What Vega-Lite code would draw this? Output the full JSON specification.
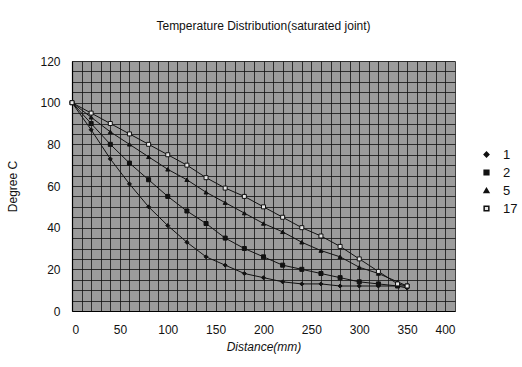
{
  "$schema": "https://vega.github.io/schema/vega-lite/v6.json",
  "width": 383,
  "height": 250,
  "autosize": {"type": "none"},
  "padding": {"left": 72, "top": 61, "right": 67, "bottom": 56},
  "background": "white",
  "title": {"text": "Temperature Distribution(saturated joint)", "font": "Liberation Sans", "fontSize": 12, "fontWeight": "normal", "color": "#111", "offset": 22, "anchor": "middle"},
  "config": {
    "view": {"fill": "#9c9c9c", "stroke": null},
    "axis": {"labelFont": "Liberation Sans", "labelFontSize": 12, "labelColor": "#111", "titleFont": "Liberation Sans", "titleFontSize": 12, "titleFontWeight": "normal", "titleColor": "#111", "gridColor": "#111", "gridOpacity": 0.8, "gridWidth": 1, "tickSize": 0, "domainColor": "#000", "domainWidth": 1.2}
  },
  "data": {"values": [
    {"series": "1", "x": 0, "y": 100}, {"series": "1", "x": 20, "y": 87}, {"series": "1", "x": 40, "y": 73}, {"series": "1", "x": 60, "y": 61}, {"series": "1", "x": 80, "y": 50}, {"series": "1", "x": 100, "y": 41}, {"series": "1", "x": 120, "y": 33}, {"series": "1", "x": 140, "y": 26}, {"series": "1", "x": 160, "y": 22}, {"series": "1", "x": 180, "y": 18}, {"series": "1", "x": 200, "y": 16}, {"series": "1", "x": 220, "y": 14}, {"series": "1", "x": 240, "y": 13}, {"series": "1", "x": 260, "y": 13}, {"series": "1", "x": 280, "y": 12}, {"series": "1", "x": 300, "y": 12}, {"series": "1", "x": 320, "y": 12}, {"series": "1", "x": 340, "y": 12}, {"series": "1", "x": 350, "y": 11},
    {"series": "2", "x": 0, "y": 100}, {"series": "2", "x": 20, "y": 90}, {"series": "2", "x": 40, "y": 80}, {"series": "2", "x": 60, "y": 71}, {"series": "2", "x": 80, "y": 63}, {"series": "2", "x": 100, "y": 55}, {"series": "2", "x": 120, "y": 48}, {"series": "2", "x": 140, "y": 42}, {"series": "2", "x": 160, "y": 35}, {"series": "2", "x": 180, "y": 30}, {"series": "2", "x": 200, "y": 26}, {"series": "2", "x": 220, "y": 22}, {"series": "2", "x": 240, "y": 20}, {"series": "2", "x": 260, "y": 18}, {"series": "2", "x": 280, "y": 16}, {"series": "2", "x": 300, "y": 14}, {"series": "2", "x": 320, "y": 13}, {"series": "2", "x": 340, "y": 12}, {"series": "2", "x": 350, "y": 12},
    {"series": "5", "x": 0, "y": 100}, {"series": "5", "x": 20, "y": 93}, {"series": "5", "x": 40, "y": 86}, {"series": "5", "x": 60, "y": 80}, {"series": "5", "x": 80, "y": 74}, {"series": "5", "x": 100, "y": 68}, {"series": "5", "x": 120, "y": 63}, {"series": "5", "x": 140, "y": 57}, {"series": "5", "x": 160, "y": 52}, {"series": "5", "x": 180, "y": 47}, {"series": "5", "x": 200, "y": 42}, {"series": "5", "x": 220, "y": 38}, {"series": "5", "x": 240, "y": 33}, {"series": "5", "x": 260, "y": 29}, {"series": "5", "x": 280, "y": 26}, {"series": "5", "x": 300, "y": 21}, {"series": "5", "x": 320, "y": 18}, {"series": "5", "x": 340, "y": 14}, {"series": "5", "x": 350, "y": 12},
    {"series": "17", "x": 0, "y": 100}, {"series": "17", "x": 20, "y": 95}, {"series": "17", "x": 40, "y": 90}, {"series": "17", "x": 60, "y": 85}, {"series": "17", "x": 80, "y": 80}, {"series": "17", "x": 100, "y": 75}, {"series": "17", "x": 120, "y": 70}, {"series": "17", "x": 140, "y": 64}, {"series": "17", "x": 160, "y": 59}, {"series": "17", "x": 180, "y": 55}, {"series": "17", "x": 200, "y": 50}, {"series": "17", "x": 220, "y": 45}, {"series": "17", "x": 240, "y": 40}, {"series": "17", "x": 260, "y": 36}, {"series": "17", "x": 280, "y": 31}, {"series": "17", "x": 300, "y": 25}, {"series": "17", "x": 320, "y": 19}, {"series": "17", "x": 340, "y": 13}, {"series": "17", "x": 350, "y": 12}
  ]},
  "encoding": {
    "x": {"field": "x", "type": "quantitative", "scale": {"domain": [0, 400], "nice": false}, "axis": {"title": "Distance(mm)", "values": [0,10,20,30,40,50,60,70,80,90,100,110,120,130,140,150,160,170,180,190,200,210,220,230,240,250,260,270,280,290,300,310,320,330,340,350,360,370,380,390,400], "labelExpr": "datum.value % 50 === 0 ? datum.label : ''", "labelPadding": 13, "titlePadding": 6, "titleFontStyle": "italic"}},
    "y": {"field": "y", "type": "quantitative", "scale": {"domain": [0, 120], "nice": false}, "axis": {"title": "Degree C", "values": [0,5,10,15,20,25,30,35,40,45,50,55,60,65,70,75,80,85,90,95,100,105,110,115,120], "labelExpr": "datum.value % 20 === 0 ? datum.label : ''", "labelPadding": 12, "titlePadding": 20}}
  },
  "layer": [
    {"mark": {"type": "line", "color": "#111", "strokeWidth": 1}, "encoding": {"detail": {"field": "series"}}},
    {"mark": {"type": "point", "strokeWidth": 1, "opacity": 1, "size": 16},
     "encoding": {
       "stroke": {"value": "#111"},
       "shape": {"field": "series", "type": "nominal", "scale": {"domain": ["1", "2", "5", "17"], "range": ["diamond", "square", "triangle-up", "square"]},
         "legend": {"title": null, "orient": "none", "legendX": 408, "legendY": 87, "labelFont": "Liberation Sans", "labelFontSize": 13, "labelColor": "#111", "symbolSize": 22, "labelOffset": 10, "rowPadding": 4,
           "encode": {"symbols": {"update": {"stroke": {"value": "#111"}, "strokeWidth": {"value": 1}, "opacity": {"value": 1}}}}}},
       "fill": {"field": "series", "type": "nominal", "scale": {"domain": ["1", "2", "5", "17"], "range": ["#111", "#111", "#111", "#e8e8e8"]}}
     }}
  ]
}
